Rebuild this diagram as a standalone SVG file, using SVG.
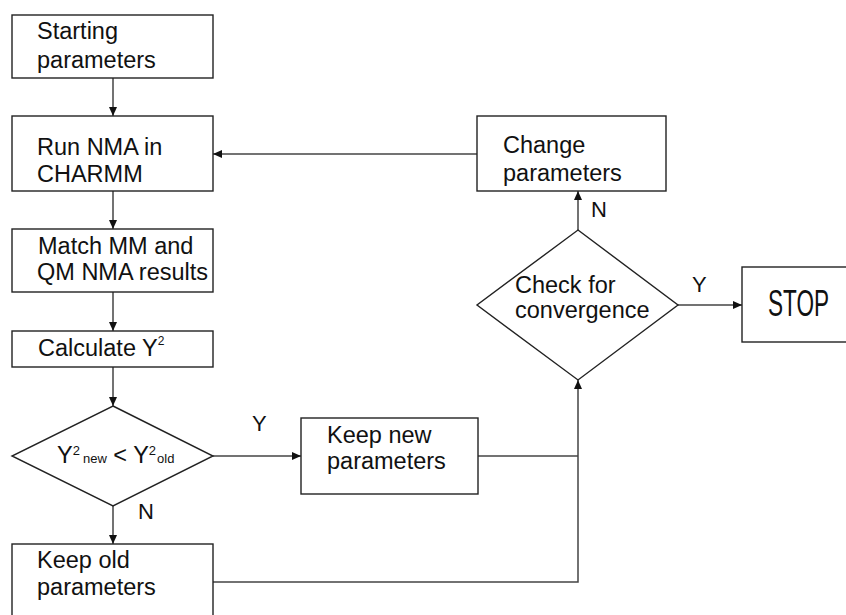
<svg xmlns="http://www.w3.org/2000/svg" width="846" height="615" viewBox="0 0 846 615">
<style>
.box{fill:#fff;stroke:#222;stroke-width:1.4}
.t{font-family:"Liberation Sans",Arial,sans-serif;font-size:23.5px;fill:#111}
.lbl{font-family:"Liberation Sans",Arial,sans-serif;font-size:22px;fill:#111}
.sm{font-size:12px}
.c{fill:none;stroke:#444;stroke-width:1.5}
</style>
<defs>
<marker id="ah" markerWidth="10" markerHeight="8" refX="9" refY="4" orient="auto" markerUnits="userSpaceOnUse">
<path d="M0,0 L9,4 L0,8 Z" fill="#111"/>
</marker>
</defs>
<rect width="846" height="615" fill="#fff"/>
<g id="connectors">
<line class="c" x1="113" y1="78" x2="113" y2="116" marker-end="url(#ah)"/>
<line class="c" x1="113" y1="191" x2="113" y2="229" marker-end="url(#ah)"/>
<line class="c" x1="113" y1="292" x2="113" y2="331" marker-end="url(#ah)"/>
<line class="c" x1="113" y1="367" x2="113" y2="406" marker-end="url(#ah)"/>
<line class="c" x1="113" y1="506" x2="113" y2="544" marker-end="url(#ah)"/>
<line class="c" x1="213" y1="456" x2="301" y2="456" marker-end="url(#ah)"/>
<line class="c" x1="478" y1="456" x2="578" y2="456"/>
<polyline class="c" points="213,582 578,582 578,380" marker-end="url(#ah)"/>
<line class="c" x1="578" y1="230" x2="578" y2="191" marker-end="url(#ah)"/>
<line class="c" x1="477" y1="154" x2="213" y2="154" marker-end="url(#ah)"/>
<line class="c" x1="678" y1="305" x2="742" y2="305" marker-end="url(#ah)"/>
<text class="lbl" x="138" y="519">N</text>
<text class="lbl" x="252" y="431">Y</text>
<text class="lbl" x="591" y="217">N</text>
<text class="lbl" x="692" y="292">Y</text>
</g>
<g id="start">
<rect class="box" x="12" y="15" width="201" height="63"/>
<text class="t" x="37" y="39">Starting</text>
<text class="t" x="37" y="68">parameters</text>
</g>
<g id="runNMA">
<rect class="box" x="12" y="116" width="201" height="75"/>
<text class="t" x="37" y="155">Run NMA in</text>
<text class="t" x="37" y="182">CHARMM</text>
</g>
<g id="match">
<rect class="box" x="12" y="229" width="201" height="63"/>
<text class="t" x="38" y="254">Match MM and</text>
<text class="t" x="37" y="280">QM NMA results</text>
</g>
<g id="calc">
<rect class="box" x="12" y="331" width="201" height="36"/>
<text class="t" x="38" y="356">Calculate Y<tspan class="sm" dy="-11">2</tspan></text>
</g>
<g id="compare">
<polygon class="box" points="113,406 213,456 113,506 12,456"/>
<text class="t" x="57" y="463">Y<tspan style="font-size:13px" dy="-8">2</tspan><tspan style="font-size:13px" dx="3" dy="8">new</tspan> &lt; Y<tspan style="font-size:13px" dy="-8">2</tspan><tspan style="font-size:13px" dx="1" dy="8">old</tspan></text>
</g>
<g id="keepNew">
<rect class="box" x="301" y="418" width="177" height="76"/>
<text class="t" x="327" y="443">Keep new</text>
<text class="t" x="327" y="469">parameters</text>
</g>
<g id="keepOld">
<rect class="box" x="12" y="544" width="201" height="90"/>
<text class="t" x="37" y="568">Keep old</text>
<text class="t" x="37" y="595">parameters</text>
</g>
<g id="converge">
<polygon class="box" points="578,230 678,305 578,380 477,305"/>
<text class="t" x="515" y="293">Check for</text>
<text class="t" x="515" y="318">convergence</text>
</g>
<g id="change">
<rect class="box" x="477" y="116" width="189" height="75"/>
<text class="t" x="503" y="153">Change</text>
<text class="t" x="503" y="181">parameters</text>
</g>
<g id="stop">
<rect class="box" x="742" y="267" width="110" height="75"/>
<text class="t" transform="translate(768,316) scale(0.61,1)" style="font-size:37px">STOP</text>
</g>
</svg>
